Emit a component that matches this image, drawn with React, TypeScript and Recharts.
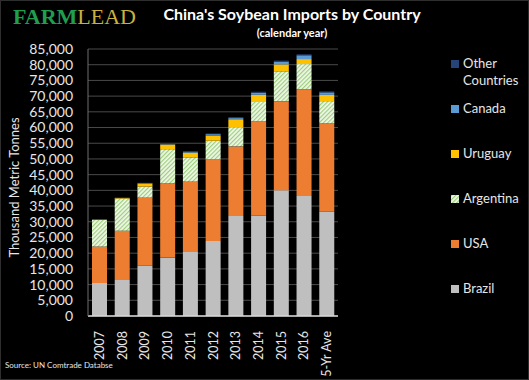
import React from 'react';
import { BarChart, Bar, XAxis, YAxis, CartesianGrid, Legend } from 'recharts';

const categories = ['2007', '2008', '2009', '2010', '2011', '2012', '2013', '2014', '2015', '2016', '5-Yr Ave'];
const brazil = [10500, 11500, 16000, 18600, 20400, 23900, 31800, 32000, 40000, 38200, 33200];
const usa = [11600, 15600, 21700, 23600, 22400, 26000, 22200, 30000, 28400, 34000, 28100];
const argentina = [8500, 10300, 3500, 10900, 7700, 5900, 6100, 6100, 9500, 8000, 7100];
const uruguay = [100, 200, 1000, 1500, 1500, 1600, 2300, 2300, 2200, 1600, 2000];
const canada = [0, 0, 100, 100, 300, 500, 600, 700, 900, 1200, 800];
const other = [100, 100, 100, 100, 200, 200, 300, 300, 300, 300, 300];
const yTicks = [0, 5000, 10000, 15000, 20000, 25000, 30000, 35000, 40000, 45000, 50000, 55000, 60000, 65000, 70000, 75000, 80000, 85000];

const data = categories.map((c, i) => ({
  name: c,
  Brazil: brazil[i],
  USA: usa[i],
  Argentina: argentina[i],
  Uruguay: uruguay[i],
  Canada: canada[i],
  Other: other[i],
}));

const FONT = 'Lato, "Open Sans", sans-serif';

const legendItems = [
  { label: ['Other', 'Countries'], color: '#264478' },
  { label: ['Canada'], color: '#5b9bd5' },
  { label: ['Uruguay'], color: '#ffc000' },
  { label: ['Argentina'], color: 'url(#argHatch)' },
  { label: ['USA'], color: '#ed7d31' },
  { label: ['Brazil'], color: '#bfbfbf' },
];

const renderLegend = () => (
  <div style={{ position: 'relative', width: 80, height: 250, fontFamily: FONT, fontSize: 13, color: '#e6e6e6' }}>
    {legendItems.map((it, i) => (
      <div key={i} style={{ position: 'absolute', left: 0, top: i * 45, display: 'flex', alignItems: 'flex-start' }}>
        <svg width={8} height={8} style={{ marginTop: 5, marginRight: 4, flexShrink: 0 }}>
          <defs>
            <pattern id={'lgHatch' + i} width="3" height="3" patternUnits="userSpaceOnUse" patternTransform="rotate(45)">
              <rect width="3" height="3" fill="#f2f8ec" />
              <rect width="1.2" height="3" fill="#9ccf79" />
            </pattern>
          </defs>
          <rect width={8} height={8} fill={it.color.startsWith('url') ? `url(#lgHatch${i})` : it.color} />
        </svg>
        <div style={{ lineHeight: '17px', whiteSpace: 'nowrap' }}>
          {it.label.map((l, j) => (
            <div key={j}>{l}</div>
          ))}
        </div>
      </div>
    ))}
  </div>
);

const XTick = (props: any) => {
  const { x, y, payload } = props;
  return (
    <g transform={`translate(${x},${y})`}>
      <text x={-7} y={0} dy="0.36em" transform="rotate(-90)" textAnchor="end" fill="#e6e6e6" fontSize={12.5} fontFamily={FONT}>
        {payload.value}
      </text>
    </g>
  );
};

export default function App() {
  return (
    <div style={{ position: 'fixed', left: 0, top: 0, width: 529, height: 380, background: '#000', overflow: 'hidden' }}>
      <div style={{ position: 'absolute', left: 0, top: 0, width: 527, height: 378, border: '1px solid #2e2e2e' }} />
      <div style={{ position: 'absolute', left: 13, top: 4, fontFamily: '"Liberation Serif", "DejaVu Serif", serif', fontSize: 22, letterSpacing: 0 }}>
        <span style={{ color: '#1f9e4f', fontWeight: 'bold' }}>FARM</span>
        <span style={{ color: '#c8b23e' }}>LEAD</span>
      </div>
      <div style={{ position: 'absolute', left: 142, width: 300, top: 4, textAlign: 'center', fontFamily: FONT, fontWeight: 'bold', fontSize: 16, color: '#fff' }}>
        China's Soybean Imports by Country
      </div>
      <div style={{ position: 'absolute', left: 142, width: 300, top: 26, textAlign: 'center', fontFamily: FONT, fontWeight: 'bold', fontSize: 11, color: '#fff' }}>
        (calendar year)
      </div>
      <div style={{ position: 'absolute', left: 5, top: 360, fontFamily: FONT, fontSize: 8, color: '#e6e6e6' }}>
        Source: UN Comtrade Databse
      </div>
      <div style={{ position: 'absolute', left: 0, top: 0 }}>
        <BarChart width={529} height={380} data={data} margin={{ top: 49, right: 111, left: 28, bottom: 4 }} barSize={15}>
          <defs>
            <pattern id="argHatch" width="3" height="3" patternUnits="userSpaceOnUse" patternTransform="rotate(45)">
              <rect width="3" height="3" fill="#f2f8ec" />
              <rect width="1.2" height="3" fill="#9ccf79" />
            </pattern>
          </defs>
          <CartesianGrid vertical={false} stroke="#4a4a4a" strokeWidth={1} />
          <XAxis dataKey="name" height={60} tick={<XTick />} tickLine={false} axisLine={{ stroke: '#d9d9d9', strokeWidth: 1.5 }} interval={0} />
          <YAxis
            width={60}
            domain={[0, 85000]}
            ticks={yTicks}
            interval={0}
            tickLine={false}
            tickSize={10}
            tickMargin={5}
            axisLine={{ stroke: '#6e6e6e' }}
            tickFormatter={(v: number) => v.toLocaleString('en-US')}
            tick={{ fill: '#e6e6e6', fontSize: 14, fontFamily: FONT }}
            label={{ value: 'Thousand Metric Tonnes', angle: -90, position: 'insideLeft', offset: 0, dx: -14, dy: 5, style: { fill: '#e6e6e6', fontSize: 13, fontFamily: FONT, textAnchor: 'middle' } }}
          />
          <Legend layout="vertical" verticalAlign="top" align="right" content={renderLegend} wrapperStyle={{ position: 'absolute', left: 451, top: 55, width: 80 }} />
          <Bar dataKey="Brazil" stackId="a" fill="#bfbfbf" isAnimationActive={false} />
          <Bar dataKey="USA" stackId="a" fill="#ed7d31" isAnimationActive={false} />
          <Bar dataKey="Argentina" stackId="a" fill="url(#argHatch)" isAnimationActive={false} />
          <Bar dataKey="Uruguay" stackId="a" fill="#ffc000" isAnimationActive={false} />
          <Bar dataKey="Canada" stackId="a" fill="#5b9bd5" isAnimationActive={false} />
          <Bar dataKey="Other" stackId="a" fill="#264478" isAnimationActive={false} />
        </BarChart>
      </div>
    </div>
  );
}
